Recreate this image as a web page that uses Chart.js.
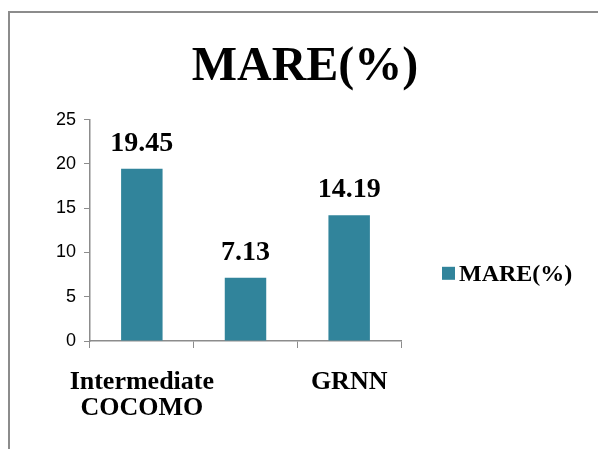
<!DOCTYPE html>
<html>
<head>
<meta charset="utf-8">
<script src="https://cdn.jsdelivr.net/npm/chart.js@4"></script>
<style>
  body { margin: 0; background: #fff; }
  #wrap { position: relative; width: 598px; height: 449px; overflow: hidden; }
  #frame { position: absolute; left: 8px; top: 11px; width: 700px; height: 600px;
           border-left: 2px solid #8c8c8c; border-top: 2px solid #8c8c8c; }
  #myChart { position: absolute; left: 0; top: 0; }
</style>
</head>
<body>
<div id="wrap">
  <div id="frame"></div>
  <canvas id="myChart" width="598" height="449"></canvas>
</div>
<script>
const categories = [['Intermediate', 'COCOMO'], '', 'GRNN'];
const mareValues = [19.45, 7.13, 14.19];
const yTicks = [0, 5, 10, 15, 20, 25];

const serif = "'Liberation Serif', 'Times New Roman', serif";
const axisGray = '#8c8c8c';
const barColor = '#31849b';

// draws the value above each bar
const valueLabels = {
  id: 'valueLabels',
  afterDatasetsDraw(chart) {
    const c = chart.ctx;
    const meta = chart.getDatasetMeta(0);
    c.save();
    c.font = 'bold 28px ' + serif;
    c.fillStyle = '#000';
    c.textAlign = 'center';
    c.textBaseline = 'alphabetic';
    meta.data.forEach((bar, i) => {
      c.fillText(mareValues[i].toFixed(2), bar.x, bar.y - 18);
    });
    c.restore();
  }
};

// the built-in right legend gets squeezed, so draw it here
const sideLegend = {
  id: 'sideLegend',
  afterDraw(chart) {
    const c = chart.ctx;
    const area = chart.chartArea;
    const ds = chart.data.datasets[0];
    const x = area.right + 41;
    const y = (area.top + area.bottom) / 2 + 43;
    c.save();
    c.fillStyle = ds.backgroundColor;
    c.fillRect(x, y - 6.5, 13, 13);
    c.font = 'bold 24px ' + serif;
    c.fillStyle = '#000';
    c.textAlign = 'left';
    c.textBaseline = 'middle';
    c.fillText(ds.label, x + 17, y + 1);
    c.restore();
  }
};

const ctx = document.getElementById('myChart');
let chart = new Chart(ctx, {
  type: 'bar',
  data: {
    labels: categories,
    datasets: [{
      label: 'MARE(%)',
      data: mareValues,
      backgroundColor: barColor,
      barPercentage: 0.4,
      categoryPercentage: 1
    }]
  },
  options: {
    responsive: false,
    animation: false,
    layout: { padding: { left: 12, right: 0, top: 0, bottom: 7 } },
    plugins: {
      title: {
        display: true,
        text: 'MARE(%)',
        color: '#000',
        font: { family: serif, size: 48, weight: 'bold' },
        padding: { top: 39, bottom: 23 }
      },
      legend: { display: false },
      tooltip: { enabled: false }
    },
    scales: {
      x: {
        grid: { display: true, drawOnChartArea: false, offset: true, color: axisGray, tickLength: 7 },
        border: { color: axisGray, width: 1.5 },
        ticks: {
          color: '#000',
          autoSkip: false,
          maxRotation: 0,
          padding: 21,
          font: { family: serif, size: 26, weight: 'bold', lineHeight: 1.0 }
        }
      },
      y: {
        min: 0,
        max: 25,
        afterBuildTicks: (axis) => { axis.ticks = yTicks.map(v => ({ value: v })); },
        afterFit: (axis) => { axis.width = 78; },
        grid: { display: true, drawOnChartArea: false, color: axisGray, tickLength: 6 },
        border: { color: axisGray, width: 1.5 },
        ticks: {
          color: '#000',
          padding: 8,
          font: { family: "'Liberation Sans', Arial, sans-serif", size: 18 }
        }
      },
      // empty right-hand space where the legend sits
      legendSpace: {
        type: 'linear',
        position: 'right',
        afterFit: (axis) => { axis.width = 197; },
        grid: { display: false },
        border: { display: false },
        ticks: { display: false }
      }
    }
  },
  plugins: [valueLabels, sideLegend]
});
</script>
</body>
</html>
